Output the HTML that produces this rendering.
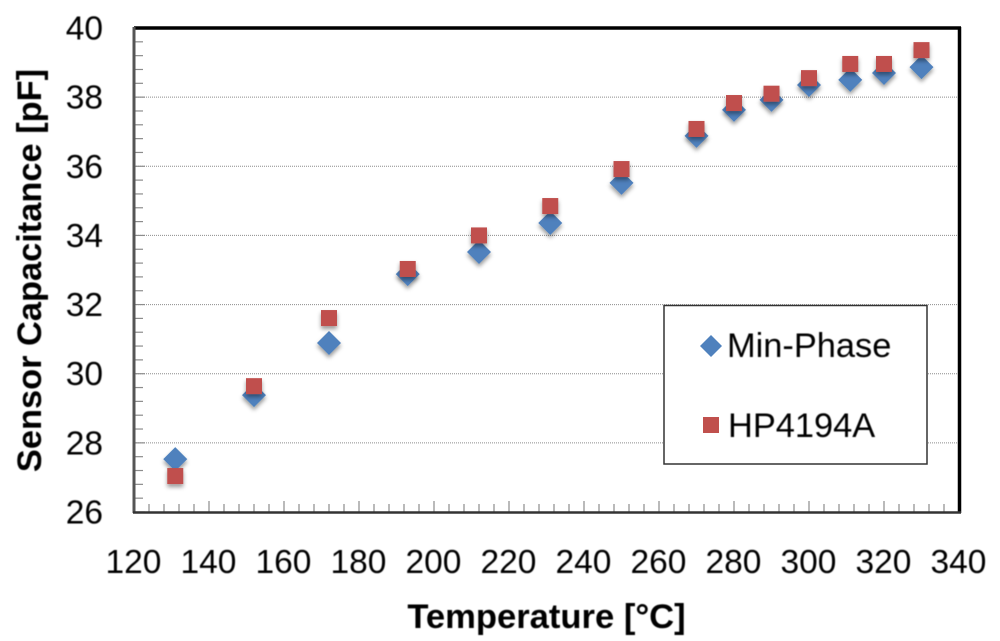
<!DOCTYPE html>
<html>
<head>
<meta charset="utf-8">
<title>Sensor Capacitance vs Temperature</title>
<style>
html,body{margin:0;padding:0;background:#fff;width:1000px;height:641px;overflow:hidden}
svg{display:block;font-family:"Liberation Sans",sans-serif}
</style>
</head>
<body>
<svg id="chart" xmlns="http://www.w3.org/2000/svg" width="1000" height="641" viewBox="0 0 1000 641">
<defs>
<filter id="shadow" x="-50%" y="-50%" width="200%" height="200%">
<feDropShadow dx="0" dy="3" stdDeviation="2" flood-color="#000" flood-opacity="0.4"/>
</filter>
<filter id="soft" x="-5%" y="-5%" width="110%" height="110%">
<feGaussianBlur stdDeviation="0.45"/>
</filter>
</defs>
<rect x="0" y="0" width="1000" height="641" fill="#fff"/>
<g id="grid"></g>
<g id="ticks"></g>
<g id="frame">
<line x1="134" y1="28" x2="961" y2="28" stroke="#000" stroke-width="3.5"/>
<line x1="959.5" y1="27" x2="959.5" y2="513" stroke="#000" stroke-width="3.5"/>
<line x1="134" y1="27" x2="134" y2="513" stroke="#555" stroke-width="3"/>
<line x1="133" y1="512.5" x2="961" y2="512.5" stroke="#333" stroke-width="2.5"/>
</g>
<g id="series"></g>
<g id="labels" filter="url(#soft)" font-size="33.5" fill="#000"></g>
<text x="546.5" y="628" text-anchor="middle" font-size="34.6" font-weight="bold" fill="#000" filter="url(#soft)">Temperature [°C]</text>
<text transform="translate(41 270.5) rotate(-90)" text-anchor="middle" font-size="34.4" font-weight="bold" fill="#000" filter="url(#soft)">Sensor Capacitance [pF]</text>
<g id="legend">
<rect x="664" y="305.5" width="263" height="158.5" fill="#fff" stroke="#333" stroke-width="1.5"/>
<g>
<polygon points="711,335 722,346 711,357 700,346" fill="#4f81bd"/>
<text x="727" y="357" font-size="34.4" fill="#000" filter="url(#soft)">Min-Phase</text>
</g>
<g>
<rect x="703" y="417" width="16" height="16" fill="#c0504d"/>
<text x="728" y="437" font-size="34.4" fill="#000" filter="url(#soft)">HP4194A</text>
</g>
</g>
</svg>
<script>
const temperatures = [131, 152, 172, 193, 212, 231, 250, 270, 280, 290, 300, 311, 320, 330];
const minPhase = [27.53, 29.38, 30.89, 32.88, 33.52, 34.36, 35.52, 36.88, 37.63, 37.92, 38.35, 38.5, 38.7, 38.87];
const hp4194a = [27.04, 29.64, 31.61, 33.03, 34.0, 34.85, 35.92, 37.08, 37.83, 38.1, 38.55, 38.96, 38.96, 39.36];
const xTickLabels = [120, 140, 160, 180, 200, 220, 240, 260, 280, 300, 320, 340];
const yTickLabels = [26, 28, 30, 32, 34, 36, 38, 40];
const xMinorStep = 4;
const yMinorStep = 0.4;

const NS = 'http://www.w3.org/2000/svg';
const X0 = 134, X1 = 959, Y0 = 512, Y1 = 28;
const xMin = xTickLabels[0], xMax = xTickLabels[xTickLabels.length - 1];
const yMin = yTickLabels[0], yMax = yTickLabels[yTickLabels.length - 1];
function xScale(v) { return X0 + (v - xMin) / (xMax - xMin) * (X1 - X0); }
function yScale(v) { return Y0 - (v - yMin) / (yMax - yMin) * (Y0 - Y1); }
function make(tag, attrs, parent) {
  const el = document.createElementNS(NS, tag);
  for (const k in attrs) el.setAttribute(k, attrs[k]);
  parent.appendChild(el);
  return el;
}
const grid = document.getElementById('grid');
const ticks = document.getElementById('ticks');
const labels = document.getElementById('labels');
const series = document.getElementById('series');

yTickLabels.forEach(function (v) {
  const y = yScale(v);
  if (v !== yMin && v !== yMax) {
    const g = make('line', { x1: X0, y1: y, x2: X1, y2: y, stroke: '#8c8c8c', 'stroke-width': 1, 'stroke-dasharray': '1 1' }, grid);
    
    
  }
  const t = make('text', { x: 103, y: y + 11.5, 'text-anchor': 'end' }, labels);
  t.textContent = v;
  
  
});

xTickLabels.forEach(function (v) {
  const t = make('text', { x: xScale(v) - 0.5, y: 573, 'text-anchor': 'middle' }, labels);
  t.textContent = v;
  
  
});

for (let i = 0; xMin + i * xMinorStep <= xMax; i++) {
  const x = xScale(xMin + i * xMinorStep);
  const len = i % 5 === 0 ? 11 : 8;
  const tk = make('line', { x1: x, y1: Y0, x2: x, y2: Y0 - len, stroke: '#8c8c8c', 'stroke-width': 1.2 }, ticks);
  
  
}
for (let i = 0; yMin + i * yMinorStep <= yMax + 0.001; i++) {
  const y = yScale(yMin + i * yMinorStep);
  const len = i % 5 === 0 ? 11 : 9;
  const tk = make('line', { x1: X0, y1: y, x2: X0 + len, y2: y, stroke: '#8c8c8c', 'stroke-width': 1.2 }, ticks);
  
  
}

temperatures.forEach(function (v, i) {
  const x = xScale(v), y = yScale(minPhase[i]);
  const d = make('polygon', {
    points: x + ',' + (y - 12) + ' ' + (x + 12) + ',' + y + ' ' + x + ',' + (y + 12) + ' ' + (x - 12) + ',' + y,
    fill: '#4f81bd', filter: 'url(#shadow)'
  }, series);
  
  
});
temperatures.forEach(function (v, i) {
  const x = xScale(v), y = yScale(hp4194a[i]);
  const s = make('rect', { x: x - 8, y: y - 8, width: 16, height: 16, fill: '#c0504d', filter: 'url(#shadow)' }, series);
  
  
});
</script>
</body>
</html>
